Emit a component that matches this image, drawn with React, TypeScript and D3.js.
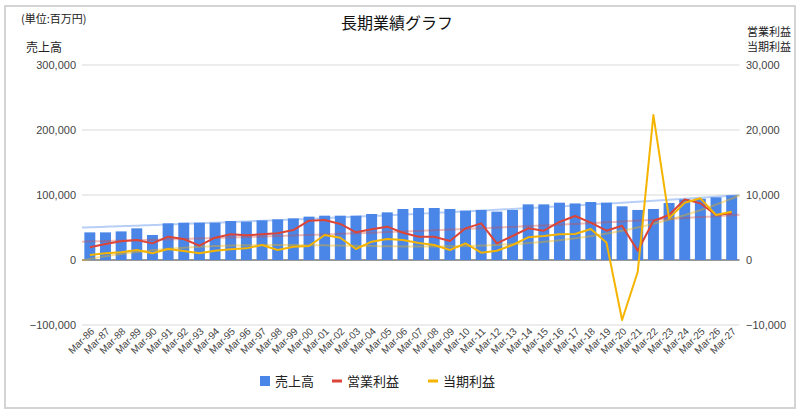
import React from "react";
import * as d3 from "d3";

const years = [
  "86", "87", "88", "89", "90", "91", "92", "93", "94", "95",
  "96", "97", "98", "99", "00", "01", "02", "03", "04", "05",
  "06", "07", "08", "09", "10", "11", "12", "13", "14", "15",
  "16", "17", "18", "19", "20", "21", "22", "23", "24", "25",
  "26", "27",
];
const categories = years.map(y => `Mar-${y}`);

// 売上高 (left axis)
const sales = [
  42500, 42500, 44000, 48700, 38500, 56400, 57400, 57400, 57400, 60000,
  59000, 61000, 62500, 64000, 66700, 68200, 68200, 68200, 70800, 73300,
  78500, 80000, 80000, 78500, 75900, 77000, 74400, 77000, 85600, 85600,
  88200, 87000, 89200, 88200, 82600, 77000, 78500, 87700, 93300, 94300,
  96400, 99500,
];

// 営業利益 (right axis)
const operating = [
  1950, 2460, 2900, 3080, 2560, 3590, 3230, 2200, 3430, 3950,
  3800, 3950, 4100, 4600, 6050, 6150, 5540, 4260, 4720, 5130,
  4200, 3590, 3590, 2920, 4870, 5640, 2560, 3690, 4870, 4510,
  5850, 6770, 5740, 4510, 5280, 1430, 6000, 6920, 9330, 8720,
  6920, 7180,
];

// 当期利益 (right axis)
const net = [
  770, 1030, 1180, 1540, 1030, 1690, 1380, 1030, 1430, 1670,
  1790, 2310, 1540, 2050, 2150, 3850, 3430, 1690, 2820, 3230,
  3080, 2600, 2300, 1540, 2560, 1130, 1430, 2310, 3490, 3690,
  3950, 4000, 4770, 2700, -9230, -1800, 22300, 6420, 8820, 9490,
  6920, 7430,
];

const leftTicks = [-100000, 0, 100000, 200000, 300000];
const rightTicks = [-10000, 0, 10000, 20000, 30000];

const seriesNames = ["売上高", "営業利益", "当期利益"];
const colors = ["#4a86e8", "#db4437", "#f4b400"];

const W = 800;
const H = 414;
const plot = { left: 82, right: 739.5, top: 65, bottom: 325 };

const jp = "'Noto Sans CJK JP', 'Noto Sans', sans-serif";
const num = "'Liberation Sans', Arial, sans-serif";

// exponential trendline y = a*e^(b*x), least squares on the raw values
function expFit(values: number[]) {
  let best = { a: 0, b: 0, err: Infinity };
  for (let b = -0.2; b <= 0.2; b += 0.0005) {
    let s1 = 0;
    let s2 = 0;
    values.forEach((v, i) => {
      const e = Math.exp(b * i);
      s1 += v * e;
      s2 += e * e;
    });
    const a = s1 / s2;
    const err = d3.sum(values, (v, i) => (v - a * Math.exp(b * i)) ** 2);
    if (err < best.err) best = { a, b, err };
  }
  return (x: number) => best.a * Math.exp(best.b * x);
}

// polynomial trendline of given degree, normal equations (x scaled to 0..1)
function polyFit(values: number[], deg: number) {
  const n = deg + 1;
  const sx = values.length - 1;
  const M = d3.range(n).map(() => d3.range(n + 1).map(() => 0));
  values.forEach((v, i) => {
    const t = i / sx;
    for (let r = 0; r < n; r++) {
      for (let c = 0; c < n; c++) M[r][c] += t ** (r + c);
      M[r][n] += v * t ** r;
    }
  });
  for (let c = 0; c < n; c++) {
    for (let r = c + 1; r < n; r++) {
      const f = M[r][c] / M[c][c];
      for (let k = c; k <= n; k++) M[r][k] -= f * M[c][k];
    }
  }
  const coef = d3.range(n).map(() => 0);
  for (let r = n - 1; r >= 0; r--) {
    let s = M[r][n];
    for (let k = r + 1; k < n; k++) s -= M[r][k] * coef[k];
    coef[r] = s / M[r][r];
  }
  return (x: number) => d3.sum(coef, (c, k) => c * (x / sx) ** k);
}

const App: React.FC = () => {
  const x = d3
    .scaleBand<string>()
    .domain(categories)
    .range([plot.left, plot.right])
    .paddingInner(0.3)
    .paddingOuter(0.15);
  const step = x.step();
  const xi = (i: number) => plot.left + step * (i + 0.5);

  const yL = d3.scaleLinear().domain([-100000, 300000]).range([plot.bottom, plot.top]);
  const yR = d3.scaleLinear().domain([-10000, 30000]).range([plot.bottom, plot.top]);

  const line = (vals: number[]) =>
    d3
      .line<number>()
      .x((_, i) => xi(i))
      .y(d => yR(d))(vals) as string;

  const trendXs = d3.range(-0.5, 41.5001, 0.25);
  const trend = (f: (x: number) => number, y: d3.ScaleLinear<number, number>) =>
    d3
      .line<number>()
      .x(t => xi(t))
      .y(t => y(f(t)))(trendXs) as string;

  const legendItems = [
    { name: seriesNames[0], color: colors[0], x: 260, shape: "box" },
    { name: seriesNames[1], color: colors[1], x: 332, shape: "line" },
    { name: seriesNames[2], color: colors[2], x: 428, shape: "line" },
  ];

  return (
    <svg
      width={W}
      height={H}
      style={{ position: "absolute", left: 0, top: 0, background: "#fff" }}
    >
      <rect x={5} y={6} width={790} height={402} fill="#fff" stroke="#d4d4d4" strokeWidth={2} />

      {/* titles */}
      <text x={21} y={23} fontFamily={jp} fontSize={11} fill="#222">
        (単位:百万円)
      </text>
      <text x={397} y={29} textAnchor="middle" fontFamily={jp} fontSize={16} fill="#111">
        長期業績グラフ
      </text>
      <text x={26} y={52} fontFamily={jp} fontSize={12} fill="#222">
        売上高
      </text>
      <text x={791} y={36} textAnchor="end" fontFamily={jp} fontSize={11} fill="#222">
        営業利益
      </text>
      <text x={791} y={51} textAnchor="end" fontFamily={jp} fontSize={11} fill="#222">
        当期利益
      </text>

      {/* gridlines */}
      {leftTicks.map(t => (
        <line
          key={t}
          x1={plot.left}
          x2={plot.right}
          y1={yL(t)}
          y2={yL(t)}
          stroke={t === 0 ? "#333" : "#d9d9d9"}
          strokeWidth={1}
        />
      ))}

      {/* axis labels */}
      {leftTicks.map(t => (
        <text
          key={t}
          x={76}
          y={yL(t)}
          dy="0.35em"
          textAnchor="end"
          fontFamily={num}
          fontSize={11}
          fill="#444"
        >
          {d3.format(",")(t)}
        </text>
      ))}
      {rightTicks.map(t => (
        <text
          key={t}
          x={746}
          y={yR(t)}
          dy="0.35em"
          fontFamily={num}
          fontSize={11}
          fill="#444"
        >
          {d3.format(",")(t)}
        </text>
      ))}
      {categories.map((c, i) => (
        <text
          key={c}
          transform={`translate(${xi(i) + 5},${plot.bottom + 7}) rotate(-45)`}
          textAnchor="end"
          fontFamily={num}
          fontSize={10}
          fill="#444"
        >
          {c}
        </text>
      ))}

      {/* bars */}
      {sales.map((v, i) => (
        <rect
          key={i}
          x={x(categories[i])}
          y={yL(Math.max(0, v))}
          width={x.bandwidth()}
          height={Math.abs(yL(v) - yL(0))}
          fill={colors[0]}
        />
      ))}

      {/* trendlines */}
      <path d={trend(expFit(sales), yL)} fill="none" stroke={colors[0]} strokeOpacity={0.4} strokeWidth={2} />
      <path d={trend(expFit(operating), yR)} fill="none" stroke={colors[1]} strokeOpacity={0.35} strokeWidth={2} />
      <path d={trend(polyFit(net, 3), yR)} fill="none" stroke={colors[2]} strokeOpacity={0.4} strokeWidth={2} />

      {/* lines */}
      <path d={line(operating)} fill="none" stroke={colors[1]} strokeWidth={2} strokeLinejoin="round" />
      <path d={line(net)} fill="none" stroke={colors[2]} strokeWidth={2} strokeLinejoin="round" />

      {/* legend */}
      {legendItems.map(l => (
        <g key={l.name} transform={`translate(${l.x},381)`}>
          {l.shape === "box" ? (
            <rect x={0} y={-5} width={10} height={10} fill={l.color} />
          ) : (
            <rect x={0} y={-1.5} width={10} height={3} fill={l.color} />
          )}
          <text x={15} y={0} dy="0.35em" fontFamily={jp} fontSize={13} fill="#222">
            {l.name}
          </text>
        </g>
      ))}
    </svg>
  );
};

export default App;
